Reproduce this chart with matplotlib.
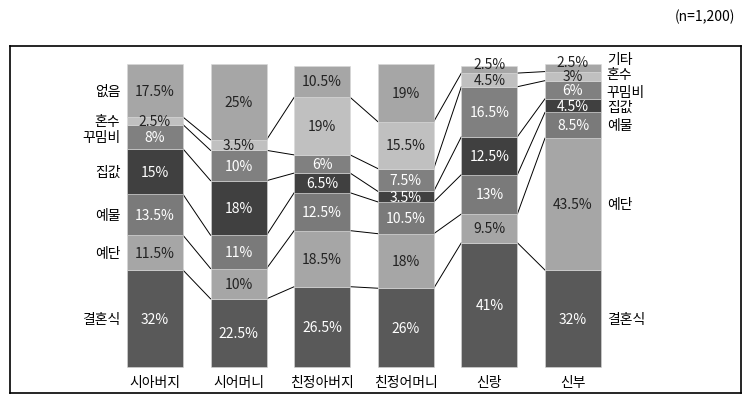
import matplotlib.pyplot as plt
import numpy as np

plt.rcParams['font.family'] = ['Noto Sans CJK KR', 'DejaVu Sans']

groups = ['시아버지', '시어머니', '친정아버지', '친정어머니', '신랑', '신부']
items_left = ['결혼식', '예단', '예물', '집값', '꾸밈비', '혼수', '없음']
items_right = ['결혼식', '예단', '예물', '집값', '꾸밈비', '혼수', '기타']

# rows: 결혼식, 예단, 예물, 집값, 꾸밈비, 혼수, 없음/기타
wedding = [32, 22.5, 26.5, 26, 41, 32]
yedan = [11.5, 10, 18.5, 18, 9.5, 43.5]
yemul = [13.5, 11, 12.5, 10.5, 13, 8.5]
house = [15, 18, 6.5, 3.5, 12.5, 4.5]
styling = [8, 10, 6, 7.5, 16.5, 6]
honsu = [2.5, 3.5, 19, 15.5, 4.5, 3]
none_etc = [17.5, 25, 10.5, 19, 2.5, 2.5]

series = [wedding, yedan, yemul, house, styling, honsu, none_etc]
colors = ['#595959', '#a6a6a6', '#7a7a7a', '#404040', '#808080', '#c0c0c0', '#a6a6a6']
txt_colors = ['white', '#222222', 'white', 'white', 'white', '#222222', '#222222']

fig = plt.figure(figsize=(7.49, 4.02), dpi=100)
ax = fig.add_axes([10 / 749, 1 - 394 / 402, 731 / 749, 347 / 402])

x = np.arange(len(groups))
w = 0.67
data = np.array(series)
bottoms = np.vstack([np.zeros(len(groups)), np.cumsum(data, axis=0)[:-1]])
tops = np.cumsum(data, axis=0)

# series lines (not for the top of the stack)
for k in range(len(series) - 1):
    for i in range(len(groups) - 1):
        ax.plot([x[i] + w / 2, x[i + 1] - w / 2], [tops[k, i], tops[k, i + 1]],
                color='black', lw=0.7, zorder=1)

last = len(series) - 1
for k, vals in enumerate(series):
    ax.bar(x, vals, w, bottom=bottoms[k], color=colors[k],
           edgecolor='#d8d8d8', linewidth=0.4, zorder=2)
    for i, v in enumerate(vals):
        yy = bottoms[k, i] + v / 2
        if k == last and v < 5:
            yy += 1.9  # thin top slice: lift label a bit
        ax.text(x[i], yy, f'{v:g}%', ha='center', va='center',
                fontsize=10, color=txt_colors[k], zorder=3)

# left item labels (first bar)
for k, name in enumerate(items_left):
    ax.text(x[0] - w / 2 - 0.08, bottoms[k, 0] + data[k, 0] / 2, name,
            ha='right', va='center', fontsize=10)

# right item labels (last bar), top ones nudged apart
nudge = [0, 0, 0, -0.4, -0.6, 0.6, 3.0]
for k, name in enumerate(items_right):
    ax.text(x[-1] + w / 2 + 0.07, bottoms[k, -1] + data[k, -1] / 2 + nudge[k], name,
            ha='left', va='center', fontsize=10)

for i, g in enumerate(groups):
    ax.text(x[i], -5, g, ha='center', va='center', fontsize=10)

ax.set_xlim(-1.734, 7.01)
ax.set_ylim(-8.58, 105.94)
ax.set_xticks([])
ax.set_yticks([])
for s in ax.spines.values():
    s.set_linewidth(1.2)

fig.text(735 / 749, 1 - 17 / 402, '(n=1,200)', ha='right', va='center', fontsize=10)

fig.savefig('out.png', dpi=100)
